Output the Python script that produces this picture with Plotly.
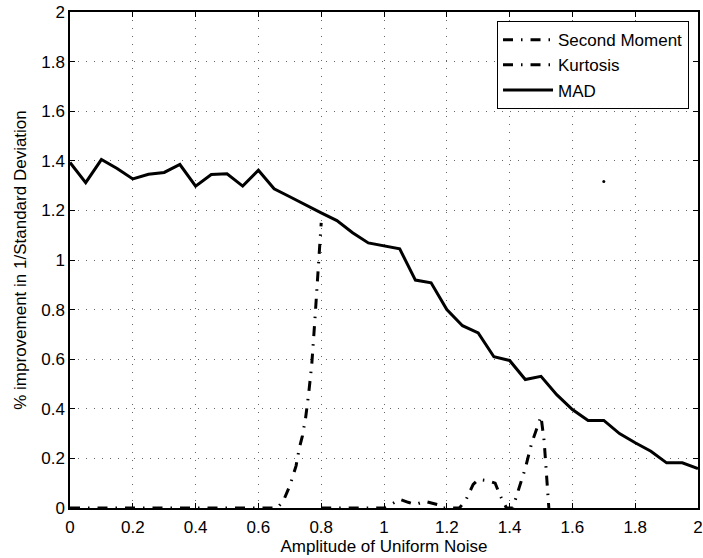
import plotly.graph_objects as go

# ---- data ----
mad_x = [0.0, 0.05, 0.1, 0.15, 0.2, 0.25, 0.3, 0.35, 0.4, 0.45, 0.5, 0.55, 0.6, 0.65,
         0.7, 0.75, 0.8, 0.85, 0.9, 0.95, 1.0, 1.05, 1.1, 1.15, 1.2, 1.25, 1.3, 1.35,
         1.4, 1.45, 1.5, 1.55, 1.6, 1.65, 1.7, 1.75, 1.8, 1.85, 1.9, 1.95, 2.0]
mad_y = [1.393, 1.312, 1.405, 1.369, 1.327, 1.346, 1.353, 1.385, 1.298, 1.345, 1.348,
         1.298, 1.362, 1.287, 1.255, 1.221, 1.19, 1.159, 1.11, 1.069, 1.058, 1.045,
         0.919, 0.908, 0.80, 0.735, 0.706, 0.61, 0.595, 0.518, 0.531, 0.457, 0.397,
         0.353, 0.353, 0.30, 0.263, 0.229, 0.182, 0.182, 0.159]

sm_x = [0.0, 0.66, 0.68, 0.70, 0.72, 0.73, 0.74, 0.75, 0.76, 0.77, 0.78, 0.79, 0.80]
sm_y = [0.0, 0.0, 0.03, 0.09, 0.17, 0.24, 0.29, 0.36, 0.46, 0.58, 0.76, 0.97, 1.15]

ku_x = [0.80, 1.00, 1.03, 1.05, 1.077, 1.10, 1.13, 1.17, 1.18, 1.24, 1.26, 1.284,
        1.30, 1.33, 1.354, 1.37, 1.39, 1.41, 1.43, 1.45, 1.47, 1.49, 1.50, 1.51,
        1.52, 1.525]
ku_y = [0.0, 0.0, 0.02, 0.035, 0.023, 0.014, 0.027, 0.014, 0.0, 0.0, 0.03, 0.095,
        0.115, 0.11, 0.10, 0.05, 0.0, 0.0, 0.08, 0.16, 0.26, 0.33, 0.37, 0.27,
        0.10, 0.0]

dot_x = [1.70]
dot_y = [1.317]

tick_vals = [0, 0.2, 0.4, 0.6, 0.8, 1.0, 1.2, 1.4, 1.6, 1.8, 2.0]
tick_text = ["0", "0.2", "0.4", "0.6", "0.8", "1", "1.2", "1.4", "1.6", "1.8", "2"]

FONT = "Liberation Sans, Arial, Helvetica, sans-serif"
DASHDOT = "10px,8px,1.5px,8px"

fig = go.Figure()
fig.add_trace(go.Scatter(x=sm_x, y=sm_y, mode="lines", name="Second Moment",
                         line=dict(color="black", width=3, dash=DASHDOT)))
fig.add_trace(go.Scatter(x=ku_x, y=ku_y, mode="lines", name="Kurtosis",
                         line=dict(color="black", width=3, dash=DASHDOT)))
fig.add_trace(go.Scatter(x=mad_x, y=mad_y, mode="lines", name="MAD",
                         line=dict(color="black", width=3)))
fig.add_trace(go.Scatter(x=dot_x, y=dot_y, mode="markers", showlegend=False,
                         marker=dict(color="black", size=3)))

axis_common = dict(
    range=[0, 2], tickvals=tick_vals, ticktext=tick_text, automargin=False,
    ticklabeloverflow="allow",
    showline=True, linecolor="black", linewidth=1.5, mirror="ticks",
    ticks="inside", ticklen=5, tickcolor="black", tickwidth=1,
    showgrid=True, gridcolor="#666666", gridwidth=1, griddash="1px,7px",
    zeroline=False, tickfont=dict(family=FONT, size=17, color="black"),
)

fig.update_layout(
    width=703, height=558,
    margin=dict(l=70, r=5, t=12, b=49.5),
    paper_bgcolor="white", plot_bgcolor="white",
    font=dict(family=FONT, size=17, color="black"),
    xaxis=dict(title=dict(text="Amplitude of Uniform Noise", standoff=3,
                          font=dict(family=FONT, size=17)),
               ticklabelstandoff=3, **axis_common),
    yaxis=dict(title=dict(text="% improvement in 1/Standard Deviation", standoff=10,
                          font=dict(family=FONT, size=17)), **axis_common),
    legend=dict(x=0.9857, y=0.9815, xanchor="right", yanchor="top",
                bgcolor="white", bordercolor="black", borderwidth=1,
                font=dict(family=FONT, size=17, color="black"),
                itemwidth=50, tracegroupgap=0),
    showlegend=True,
)

fig.write_html(
    "out.html",
    config={"displayModeBar": False},
    post_script="document.body.style.margin='0px';document.body.style.overflow='hidden';",
)
